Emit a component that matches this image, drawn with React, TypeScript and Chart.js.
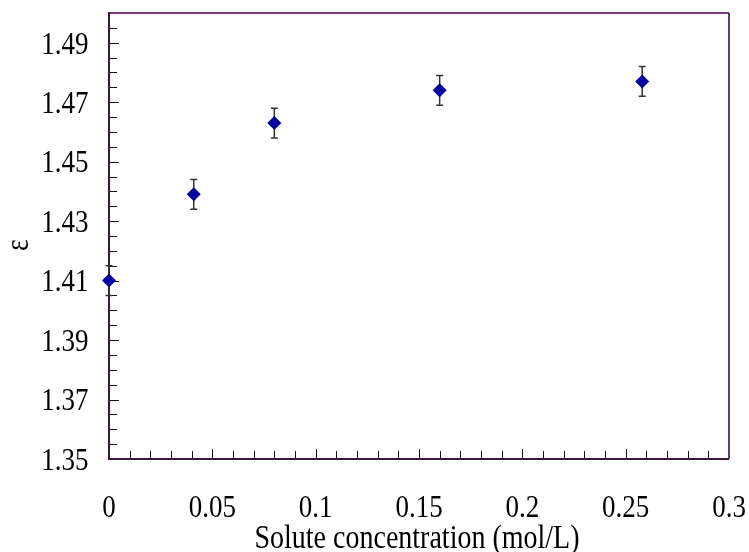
import { useEffect, useRef } from 'react';
import { Chart, registerables } from 'chart.js';

Chart.register(...registerables);

// Measured permittivity ratio versus solute concentration
const concentration = [0, 0.041, 0.08, 0.16, 0.258];
const epsilon = [1.41, 1.439, 1.463, 1.474, 1.477];
const epsilonError = [0.005, 0.005, 0.005, 0.005, 0.005];

// Labelled ticks
const xTicks = [0, 0.05, 0.1, 0.15, 0.2, 0.25, 0.3];
const yTicks = [1.35, 1.37, 1.39, 1.41, 1.43, 1.45, 1.47, 1.49];

const xTitle = 'Solute concentration (mol/L)';
const yTitle = 'ε';

const X_MIN = 0;
const X_MAX = 0.3;
const X_MINOR = 0.01;
const Y_MIN = 1.35;
const Y_MAX = 1.5;
const Y_MINOR = 0.005;

const FONT = "'Liberation Serif', 'Times New Roman', serif";
const TICK_SIZE = 27;
const TITLE_SIZE = 28;
// the typeface is set slightly tall and narrow
const STRETCH_Y = 1.18;

const isLabelled = (v: number, list: number[]) => list.some((t) => Math.abs(t - v) < 1e-9);

const formatX = (v: number) => String(Number(v.toFixed(2)));
const formatY = (v: number) => v.toFixed(2);

// Frame, inward tick marks and error bars, drawn beneath the markers
const framePlugin = {
  id: 'frameTicksErrors',
  beforeDatasetsDraw(chart: any) {
    const { ctx, chartArea, scales } = chart;
    const { left, right, top, bottom } = chartArea;
    const xs = scales.x;
    const ys = scales.y;
    ctx.save();

    // tick marks pointing into the plot
    ctx.lineWidth = 1;
    ctx.strokeStyle = '#1a0a1a';
    const nx = Math.round((X_MAX - X_MIN) / X_MINOR);
    for (let i = 1; i < nx; i++) {
      const v = X_MIN + i * X_MINOR;
      const px = Math.round(xs.getPixelForValue(v)) + 0.5;
      const len = isLabelled(v, xTicks) ? 10 : 8;
      ctx.beginPath();
      ctx.moveTo(px, bottom);
      ctx.lineTo(px, bottom - len);
      ctx.stroke();
    }
    const ny = Math.round((Y_MAX - Y_MIN) / Y_MINOR);
    for (let i = 1; i < ny; i++) {
      const v = Y_MIN + i * Y_MINOR;
      const py = Math.round(ys.getPixelForValue(v)) + 0.5;
      const len = isLabelled(v, yTicks) ? 10 : 8;
      ctx.beginPath();
      ctx.moveTo(left, py);
      ctx.lineTo(left + len, py);
      ctx.stroke();
    }

    // plot frame
    ctx.lineWidth = 2;
    ctx.strokeStyle = '#7d3c7d';
    ctx.beginPath();
    ctx.moveTo(left, top);
    ctx.lineTo(right, top);
    ctx.stroke();
    ctx.lineWidth = 1.5;
    ctx.strokeStyle = '#2a0a2a';
    ctx.beginPath();
    ctx.moveTo(right, top);
    ctx.lineTo(right, bottom);
    ctx.stroke();
    ctx.lineWidth = 2;
    ctx.strokeStyle = '#3a1c3a';
    ctx.beginPath();
    ctx.moveTo(left, top - 1);
    ctx.lineTo(left, bottom);
    ctx.lineTo(right, bottom);
    ctx.stroke();

    // error bars
    ctx.lineWidth = 1.5;
    ctx.strokeStyle = '#333333';
    concentration.forEach((c, i) => {
      const px = xs.getPixelForValue(c);
      const hi = ys.getPixelForValue(epsilon[i] + epsilonError[i]);
      const lo = ys.getPixelForValue(epsilon[i] - epsilonError[i]);
      ctx.beginPath();
      ctx.moveTo(px, hi);
      ctx.lineTo(px, lo);
      ctx.moveTo(px - 3.5, hi);
      ctx.lineTo(px + 3.5, hi);
      ctx.moveTo(px - 3.5, lo);
      ctx.lineTo(px + 3.5, lo);
      ctx.stroke();
    });

    ctx.restore();
  },
};

// Draws text with a slight vertical stretch about its anchor point
function stretchedText(
  ctx: CanvasRenderingContext2D,
  text: string,
  x: number,
  y: number,
  size: number,
  align: CanvasTextAlign,
  rotate = 0,
  baselineShift = 0,
) {
  ctx.save();
  ctx.translate(x, y);
  if (rotate) ctx.rotate(rotate);
  ctx.scale(1, STRETCH_Y);
  ctx.font = `${size}px ${FONT}`;
  ctx.fillStyle = '#000';
  ctx.textAlign = align;
  ctx.textBaseline = 'alphabetic';
  ctx.fillText(text, 0, baselineShift);
  ctx.restore();
}

// Tick labels and axis titles, placed from the scales' own ticks
const labelPlugin = {
  id: 'axisLabels',
  afterDraw(chart: any) {
    const { ctx, chartArea, scales } = chart;
    const xs = scales.x;
    const ys = scales.y;
    const digitHalf = (0.676 * TICK_SIZE) / 2;

    ys.ticks.forEach((t: any) => {
      const py = ys.getPixelForValue(t.value);
      stretchedText(ctx, formatY(t.value), chartArea.left - 20.5, py, TICK_SIZE, 'right', 0, digitHalf);
    });
    xs.ticks.forEach((t: any) => {
      const px = xs.getPixelForValue(t.value);
      stretchedText(ctx, formatX(t.value), px, chartArea.bottom + 47, TICK_SIZE, 'center', 0, digitHalf);
    });

    const cx = (chartArea.left + chartArea.right) / 2 - 2;
    stretchedText(ctx, xTitle, cx, chartArea.bottom + 80, TITLE_SIZE, 'center', 0, 0.33 * TITLE_SIZE / 2 + 3);
    stretchedText(ctx, yTitle, 20, (chartArea.top + chartArea.bottom) / 2 + 9, TITLE_SIZE, 'center', -Math.PI / 2, 0.23 * TITLE_SIZE);
  },
};

export default function App() {
  const canvasRef = useRef<HTMLCanvasElement>(null);

  useEffect(() => {
    document.body.style.margin = '0';
    const canvas = canvasRef.current;
    if (!canvas) return;

    const chart = new Chart(canvas, {
      type: 'scatter',
      data: {
        datasets: [
          {
            data: concentration.map((x, i) => ({ x, y: epsilon[i] })),
            pointStyle: 'rectRot',
            pointRadius: 7,
            pointHoverRadius: 7,
            borderWidth: 0,
            backgroundColor: '#0000a0',
            borderColor: '#0000a0',
            clip: false,
          } as any,
        ],
      },
      options: {
        responsive: false,
        devicePixelRatio: 1,
        animation: false,
        events: [],
        layout: { padding: { top: 13, right: 20, left: 0, bottom: 0 } },
        plugins: {
          legend: { display: false },
          tooltip: { enabled: false },
        },
        scales: {
          x: {
            type: 'linear',
            min: X_MIN,
            max: X_MAX,
            grid: { display: false, drawTicks: false },
            border: { display: false },
            afterBuildTicks: (axis: any) => {
              axis.ticks = xTicks.map((value) => ({ value }));
            },
            afterFit: (axis: any) => {
              axis.height = 93;
              axis.paddingLeft = 0;
              axis.paddingRight = 0;
              axis.paddingTop = 0;
              axis.paddingBottom = 0;
            },
            ticks: { display: false, autoSkip: false, maxRotation: 0 },
            title: { display: false },
          },
          y: {
            type: 'linear',
            min: Y_MIN,
            max: Y_MAX,
            grid: { display: false, drawTicks: false },
            border: { display: false },
            afterBuildTicks: (axis: any) => {
              axis.ticks = yTicks.map((value) => ({ value }));
            },
            afterFit: (axis: any) => {
              axis.width = 109;
              axis.paddingLeft = 0;
              axis.paddingRight = 0;
              axis.paddingTop = 0;
              axis.paddingBottom = 0;
            },
            ticks: { display: false, autoSkip: false },
            title: { display: false },
          },
        },
      },
      plugins: [framePlugin, labelPlugin],
    });

    return () => chart.destroy();
  }, []);

  return (
    <div style={{ width: 749, height: 552 }}>
      <canvas ref={canvasRef} width={749} height={552} style={{ display: 'block', width: 749, height: 552 }} />
    </div>
  );
}
